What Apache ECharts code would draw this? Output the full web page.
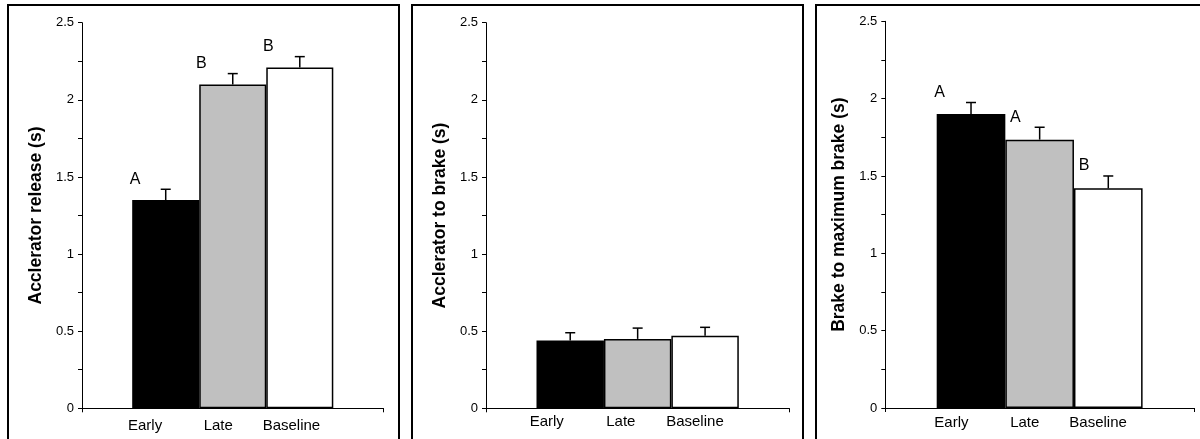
<!DOCTYPE html>
<html>
<head>
<meta charset="utf-8">
<script src="https://cdn.jsdelivr.net/npm/echarts@6/dist/echarts.min.js"></script>
<style>
  html, body { margin: 0; padding: 0; background: #fff; }
  #main { width: 1200px; height: 439px; }
</style>
</head>
<body>
<div id="main"></div>
<script>
var categories = ['Early', 'Late', 'Baseline'];
var yTicks = [0, 0.5, 1, 1.5, 2, 2.5];

// panel 1
var releaseMean = [1.35, 2.10, 2.21];
var releaseErr = [0.07, 0.07, 0.07];
var releaseLetters = ['A', 'B', 'B'];
// panel 2
var toBrakeMean = [0.44, 0.45, 0.47];
var toBrakeErr = [0.05, 0.07, 0.055];
var toBrakeLetters = ['', '', ''];
// panel 3
var maxBrakeMean = [1.90, 1.735, 1.42];
var maxBrakeErr = [0.075, 0.08, 0.08];
var maxBrakeLetters = ['A', 'A', 'B'];

var yNames = ['Acclerator release (s)', 'Acclerator to brake (s)', 'Brake to maximum brake (s)'];
var barColors = ['#000000', '#c0c0c0', '#ffffff'];

var FONT = '"Liberation Sans", Arial, Helvetica, sans-serif';
var GAP = 0.333;

var panels = [
  { mean: releaseMean, err: releaseErr, letters: releaseLetters,
    grid: { left: 82, top: 22.7, width: 301.5, bottom: 30.7 },
    labelGrid: { left: 108.5, width: 219.5 }, labelMargin: 10, letterShift: 2,
    frame: { x: 8, width: 391 } },
  { mean: toBrakeMean, err: toBrakeErr, letters: toBrakeLetters,
    grid: { left: 486, top: 22.7, width: 303.3, bottom: 30.7 },
    labelGrid: { left: 509.7, width: 222.3 }, labelMargin: 6, letterShift: 2,
    frame: { x: 412, width: 391 } },
  { mean: maxBrakeMean, err: maxBrakeErr, letters: maxBrakeLetters,
    grid: { left: 885.3, top: 21.3, width: 308.7, bottom: 31 },
    labelGrid: { left: 914.8, width: 219.9 }, labelMargin: 7, letterShift: 10,
    frame: { x: 816, width: 500 } }
];

function errRenderer(letters, shift) {
  return function (params, api) {
    var base = api.coord([api.value(0), api.value(1)]);
    var cap = api.coord([api.value(0), api.value(1) + api.value(2)]);
    var band = api.size([1, 0])[0];
    var bw = band * (1 - GAP) / 3;
    var cx = base[0] + (api.value(3) - 1) * bw;
    var barLeft = cx - bw / 2;
    var children = [
      { type: 'line', shape: { x1: cx, y1: base[1], x2: cx, y2: cap[1] },
        style: { stroke: '#000', lineWidth: 1.5 } },
      { type: 'line', shape: { x1: cx - 5, y1: cap[1], x2: cx + 5, y2: cap[1] },
        style: { stroke: '#000', lineWidth: 1.5 } }
    ];
    var letter = letters[params.dataIndex];
    if (letter) {
      // first letter sits on the bar's left edge, later ones a bit inside
      var dx = params.dataIndex === 0 ? 3 : shift;
      children.push({
        type: 'text',
        style: { x: barLeft + dx, y: cap[1] - 10, text: letter, fill: '#000',
          font: '16px ' + FONT, align: 'center', verticalAlign: 'middle' }
      });
    }
    return { type: 'group', children: children };
  };
}

var grids = [], xAxes = [], yAxes = [], series = [], graphics = [];

panels.forEach(function (p, k) {
  grids.push(p.grid);
  xAxes.push({
    type: 'category', gridIndex: k, data: ['g'],
    axisLine: { lineStyle: { color: '#000', width: 1 } },
    axisTick: { show: true, length: 4, lineStyle: { color: '#000' } },
    axisLabel: { show: false }, splitLine: { show: false }
  });
  yAxes.push({
    type: 'value', gridIndex: k, min: 0, max: 2.5, interval: 0.25,
    name: yNames[k], nameLocation: 'middle', nameGap: 37,
    nameTextStyle: { fontFamily: FONT, fontWeight: 'bold', fontSize: 17.5, color: '#000' },
    axisLine: { show: true, lineStyle: { color: '#000', width: 1 } },
    axisTick: { show: true, length: 4, lineStyle: { color: '#000' } },
    splitLine: { show: false },
    axisLabel: {
      fontFamily: FONT, fontSize: 13, color: '#000', margin: 8,
      formatter: function (v) {
        var r = Math.round(v * 100) / 100;
        return yTicks.indexOf(r) >= 0 ? String(r) : '';
      }
    }
  });

  categories.forEach(function (c, i) {
    series.push({
      type: 'bar', name: c, xAxisIndex: k, yAxisIndex: k,
      data: [p.mean[i]],
      barGap: '0%', barCategoryGap: (GAP * 100) + '%',
      itemStyle: { color: barColors[i], borderColor: '#000', borderWidth: 1.5 },
      silent: true
    });
  });

  series.push({
    type: 'custom', xAxisIndex: k, yAxisIndex: k, z: 5, silent: true,
    renderItem: errRenderer(p.letters, p.letterShift),
    data: categories.map(function (c, i) { return [0, p.mean[i], p.err[i], i]; })
  });

  graphics.push({
    type: 'rect', silent: true,
    shape: { x: p.frame.x, y: 5, width: p.frame.width, height: 600 },
    style: { fill: 'none', stroke: '#000', lineWidth: 2 }
  });
});

// label-only axes under each panel
panels.forEach(function (p, k) {
  var gi = grids.length;
  grids.push({ left: p.labelGrid.left, width: p.labelGrid.width, top: p.grid.top, bottom: p.grid.bottom });
  xAxes.push({
    type: 'category', gridIndex: gi, data: categories,
    axisLine: { show: false }, axisTick: { show: false },
    axisLabel: { interval: 0, fontFamily: FONT, fontSize: 15, color: '#000', margin: p.labelMargin }
  });
  yAxes.push({ type: 'value', gridIndex: gi, show: false, min: 0, max: 2.5 });
});

var chart = echarts.init(document.getElementById('main'), null, { renderer: 'canvas' });
chart.setOption({
  animation: false,
  backgroundColor: '#ffffff',
  grid: grids,
  xAxis: xAxes,
  yAxis: yAxes,
  series: series,
  graphic: graphics
});
</script>
</body>
</html>
